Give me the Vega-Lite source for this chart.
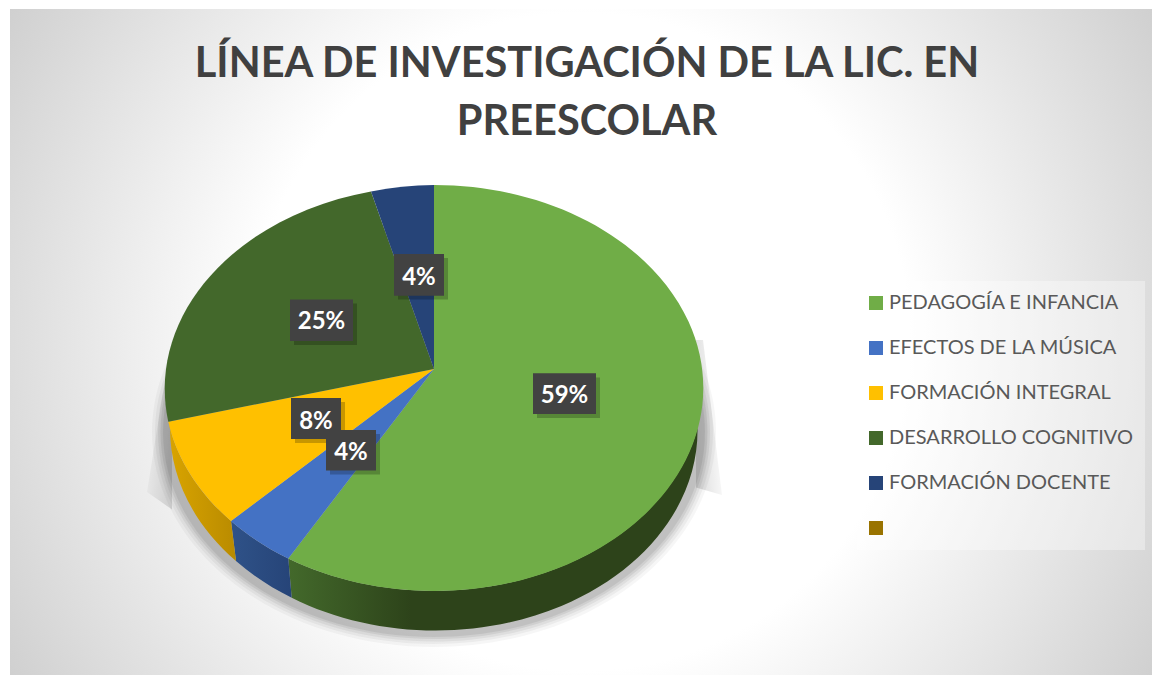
{
"$schema":"https://vega.github.io/schema/vega-lite/v6.json",
"width":1152,"height":675,"padding":0,"autosize":{"type":"none"},
"background":"#ffffff",
"config":{"view":{"stroke":null}},
"title":{"text":["LÍNEA DE INVESTIGACIÓN DE LA LIC. EN","PREESCOLAR"],"font":"Lato","fontSize":41.5,"fontWeight":700,"color":"#404040","lineHeight":58,"anchor":"middle","frame":"group","orient":"top","offset":-143,"dx":11},
"datasets":{"slices":[
{"categoria":"PEDAGOGÍA E INFANCIA","pct":0.59},
{"categoria":"EFECTOS DE LA MÚSICA","pct":0.04},
{"categoria":"FORMACIÓN INTEGRAL","pct":0.08},
{"categoria":"DESARROLLO COGNITIVO","pct":0.25},
{"categoria":"FORMACIÓN DOCENTE","pct":0.04},
{"categoria":" ","pct":0}
]},
"data":{"name":"slices"},
"layer":[
{"data":{"values":[{"capa":"fondo"}]},"mark":{"type":"point","filled":true,"size":4,"opacity":1,"strokeWidth":0,"fill":{"gradient":"radial","x1":0.5,"y1":0.5,"r1":0,"x2":0.5,"y2":0.5,"r2":0.72,"stops":[{"offset":0,"color":"#ffffff"},{"offset":0.4,"color":"#ffffff"},{"offset":1,"color":"#b9b9b9"}]}},
 "encoding":{"shape":{"value":"M-566,-328.5 H576 V337.5 H-566 Z"}}},
{"data":{"values":[{"capa":"sombra"}]},"mark":{"type":"point","filled":true,"size":4,"opacity":1,"strokeWidth":0,"fill":{"gradient":"linear","x1":0,"y1":0,"x2":1,"y2":0.3,"stops":[{"offset":0,"color":"rgba(0,0,0,0)"},{"offset":1,"color":"rgba(0,0,0,0.12)"}]}},
 "encoding":{"shape":{"value":"M-411,42.5 L-429,154.5 L-404,172 L-404,42.5 Z"}}},
{"data":{"values":[{"capa":"sombra"}]},"mark":{"type":"point","filled":true,"size":4,"opacity":1,"strokeWidth":0,"fill":{"gradient":"linear","x1":0,"y1":0.3,"x2":1,"y2":0,"stops":[{"offset":0,"color":"rgba(0,0,0,0.12)"},{"offset":1,"color":"rgba(0,0,0,0)"}]}},
 "encoding":{"shape":{"value":"M120,2.5 L127,2.5 L146,157.5 L120,150 Z"}}},
{"data":{"values":[{"capa":"sombra"}]},"mark":{"type":"point","filled":true,"size":4,"opacity":0.035,"strokeWidth":0,"fill":"#000000"},
 "encoding":{"shape":{"value":"M-424,94.5 A282,215 0 1 1 140,94.5 A282,215 0 1 1 -424,94.5 Z"}}},
{"data":{"values":[{"capa":"sombra"}]},"mark":{"type":"point","filled":true,"size":4,"opacity":0.045,"strokeWidth":0,"fill":"#000000"},
 "encoding":{"shape":{"value":"M-421,94.5 A279,212 0 1 1 137,94.5 A279,212 0 1 1 -421,94.5 Z"}}},
{"data":{"values":[{"capa":"sombra"}]},"mark":{"type":"point","filled":true,"size":4,"opacity":0.055,"strokeWidth":0,"fill":"#000000"},
 "encoding":{"shape":{"value":"M-418,94.5 A276,209.5 0 1 1 134,94.5 A276,209.5 0 1 1 -418,94.5 Z"}}},
{"data":{"values":[{"capa":"sombra"}]},"mark":{"type":"point","filled":true,"size":4,"opacity":0.065,"strokeWidth":0,"fill":"#000000"},
 "encoding":{"shape":{"value":"M-415.5,94.5 A273.5,207 0 1 1 131.5,94.5 A273.5,207 0 1 1 -415.5,94.5 Z"}}},
{"data":{"values":[{"capa":"sombra"}]},"mark":{"type":"point","filled":true,"size":4,"opacity":0.07,"strokeWidth":0,"fill":"#000000"},
 "encoding":{"shape":{"value":"M-413,94.5 A271,205 0 1 1 129,94.5 A271,205 0 1 1 -413,94.5 Z"}}},
{"transform":[{"filter":"datum.categoria === 'PEDAGOGÍA E INFANCIA'"}],
 "mark":{"type":"point","filled":true,"size":4,"opacity":1,"strokeWidth":0,"fill":{"gradient":"linear","x1":0,"y1":0,"x2":1,"y2":0,"stops":[{"offset":0,"color":"#43692b"},{"offset":0.3,"color":"#2d431a"},{"offset":1,"color":"#2d431a"}]}},
 "encoding":{"shape":{"value":"M-287.7,221 A269,203 0 0 0 121.5,90.5 A262,200 0 0 1 -284.3,260.2 Z"}}},
{"transform":[{"filter":"datum.categoria === 'EFECTOS DE LA MÚSICA'"}],
 "mark":{"type":"point","filled":true,"size":4,"opacity":1,"strokeWidth":0,"fill":{"gradient":"linear","x1":0,"y1":0,"x2":1,"y2":0,"stops":[{"offset":0,"color":"#2f5288"},{"offset":1,"color":"#264478"}]}},
 "encoding":{"shape":{"value":"M-287.7,221 L-284.3,260.2 A262,200 0 0 1 -340,223.5 L-345,183.5 A269,203 0 0 0 -287.7,221 Z"}}},
{"transform":[{"filter":"datum.categoria === 'FORMACIÓN INTEGRAL'"}],
 "mark":{"type":"point","filled":true,"size":4,"opacity":1,"strokeWidth":0,"fill":{"gradient":"linear","x1":0,"y1":0,"x2":1,"y2":0,"stops":[{"offset":0,"color":"#d9a400"},{"offset":1,"color":"#b98b00"}]}},
 "encoding":{"shape":{"value":"M-345,183.5 L-340,223.5 A262,200 0 0 1 -406,90.5 L-407.7,84.2 A269,203 0 0 0 -345,183.5 Z"}}},
{"mark":{"type":"point","filled":true,"size":4,"opacity":1,"strokeWidth":0},
 "encoding":{
  "color":{"field":"categoria","type":"nominal","sort":null,
   "scale":{"domain":["PEDAGOGÍA E INFANCIA","EFECTOS DE LA MÚSICA","FORMACIÓN INTEGRAL","DESARROLLO COGNITIVO","FORMACIÓN DOCENTE"," "],"range":["#70ad47","#4472c4","#ffc000","#43682b","#264478","#997300"]},
   "legend":{"title":null,"orient":"none","legendX":857,"legendY":281,"symbolType":"square","symbolSize":196,"symbolStrokeWidth":0,"symbolOffset":-3,"labelFont":"Lato","labelFontSize":20,"labelColor":"#595959","labelOffset":3,"padding":12,"rowPadding":25,"fillColor":"rgba(255,255,255,0.35)","labelLimit":300}},
  "shape":{"field":"categoria","type":"nominal","legend":null,
   "scale":{"domain":["PEDAGOGÍA E INFANCIA","EFECTOS DE LA MÚSICA","FORMACIÓN INTEGRAL","DESARROLLO COGNITIVO","FORMACIÓN DOCENTE"," "],
   "range":["M-142,31.5 L-142,-152.5 A269,203 0 1 1 -287.7,221 Z","M-142,31.5 L-287.7,221 A269,203 0 0 1 -345,183.5 Z","M-142,31.5 L-345,183.5 A269,203 0 0 1 -407.7,84.2 Z","M-142,31.5 L-407.7,84.2 A269,203 0 0 1 -205,-146 Z","M-142,31.5 L-205,-146 A269,203 0 0 1 -142,-152.5 Z","M-142,31.5 Z"]}}
 }},
{"transform":[{"filter":"datum.pct > 0"}],
 "mark":{"type":"point","filled":true,"size":4,"opacity":0.22,"strokeWidth":0,"fill":"#000000"},
 "encoding":{"shape":{"field":"categoria","type":"nominal","legend":null,
  "scale":{"domain":["PEDAGOGÍA E INFANCIA","EFECTOS DE LA MÚSICA","FORMACIÓN INTEGRAL","DESARROLLO COGNITIVO","FORMACIÓN DOCENTE"],
  "range":["M-39,40 H24 V80.5 H-39 Z","M-246,96.5 H-196 V137 H-246 Z","M-281,64.5 H-231 V105.5 H-281 Z","M-282,-34 H-219 V7.5 H-282 Z","M-178,-79.5 H-128 V-38 H-178 Z"]}}}},
{"transform":[{"filter":"datum.pct > 0"}],
 "mark":{"type":"point","filled":true,"size":4,"opacity":1,"strokeWidth":0,"fill":"#424242"},
 "encoding":{"shape":{"field":"categoria","type":"nominal","legend":null,
  "scale":{"domain":["PEDAGOGÍA E INFANCIA","EFECTOS DE LA MÚSICA","FORMACIÓN INTEGRAL","DESARROLLO COGNITIVO","FORMACIÓN DOCENTE"],
  "range":["M-43,35.8 H20 V76.5 H-43 Z","M-250,92.5 H-200 V133 H-250 Z","M-285,60.5 H-235 V101.5 H-285 Z","M-286,-38 H-223 V3.5 H-286 Z","M-182,-83.5 H-132 V-41.8 H-182 Z"]}}}},
{"transform":[{"filter":"datum.categoria === 'PEDAGOGÍA E INFANCIA'"}],"mark":{"type":"text","font":"Lato","fontSize":24,"fontWeight":700,"color":"#ffffff","align":"center","baseline":"middle","dx":-11.5,"dy":58.5},"encoding":{"text":{"field":"pct","type":"quantitative","format":".0%"}}},
{"transform":[{"filter":"datum.categoria === 'EFECTOS DE LA MÚSICA'"}],"mark":{"type":"text","font":"Lato","fontSize":24,"fontWeight":700,"color":"#ffffff","align":"center","baseline":"middle","dx":-225,"dy":115},"encoding":{"text":{"field":"pct","type":"quantitative","format":".0%"}}},
{"transform":[{"filter":"datum.categoria === 'FORMACIÓN INTEGRAL'"}],"mark":{"type":"text","font":"Lato","fontSize":24,"fontWeight":700,"color":"#ffffff","align":"center","baseline":"middle","dx":-260,"dy":84},"encoding":{"text":{"field":"pct","type":"quantitative","format":".0%"}}},
{"transform":[{"filter":"datum.categoria === 'DESARROLLO COGNITIVO'"}],"mark":{"type":"text","font":"Lato","fontSize":24,"fontWeight":700,"color":"#ffffff","align":"center","baseline":"middle","dx":-254.5,"dy":-15.5},"encoding":{"text":{"field":"pct","type":"quantitative","format":".0%"}}},
{"transform":[{"filter":"datum.categoria === 'FORMACIÓN DOCENTE'"}],"mark":{"type":"text","font":"Lato","fontSize":24,"fontWeight":700,"color":"#ffffff","align":"center","baseline":"middle","dx":-157,"dy":-59.5},"encoding":{"text":{"field":"pct","type":"quantitative","format":".0%"}}}
],
"resolve":{"scale":{"shape":"independent"}}
}
